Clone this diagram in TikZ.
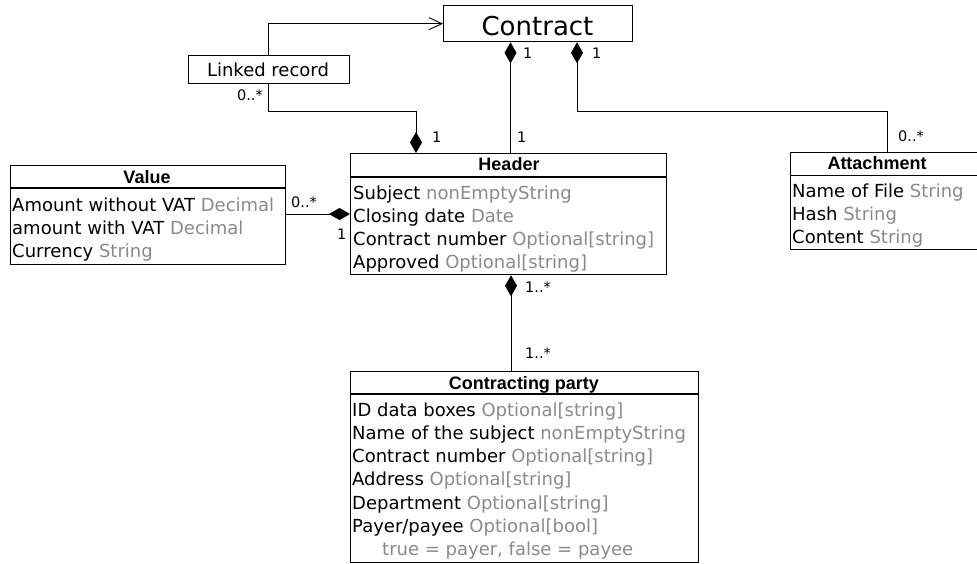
\documentclass[tikz,border=0pt]{standalone}
\usepackage{fontspec}
\setmainfont{DejaVu Sans}
\newfontfamily\titlefamily{Liberation Sans}
\usetikzlibrary{arrows.meta}

\definecolor{typegray}{RGB}{138,138,138}
\newcommand{\ty}[1]{\textcolor{typegray}{#1}}

\tikzset{
  classbox/.style={draw, line width=1.3pt, rectangle, inner sep=0pt, anchor=north west},
  sepline/.style={line width=1.3pt},
  classtitle/.style={anchor=base, inner sep=0pt, font=\titlefamily\bfseries\fontsize{18}{18}\selectfont},
  attr/.style={anchor=base west, inner sep=0pt, font=\fontsize{18}{18}\selectfont},
  mult/.style={anchor=base west, inner sep=0pt, font=\fontsize{14.5}{14.5}\selectfont},
  assoc/.style={line width=0.9pt},
  compend/.style={assoc, -{Diamond[length=21pt,width=12pt]}},
  compstart/.style={assoc, {Diamond[length=21pt,width=12pt]}-},
  navend/.style={assoc, -{Straight Barb[length=13pt,width=12pt,line width=0.9pt]}}
}

\begin{document}
\begin{tikzpicture}[x=1pt,y=-1pt]
\useasboundingbox (0,0) rectangle (977,563);

% Contract
\node[classbox, minimum width=189pt, minimum height=36pt] (ct) at (443,5) {};
\node[anchor=base, inner sep=0pt, font=\fontsize{26}{26}\selectfont] (ctT) at (537.5,35) {Contract};

% Linked record
\node[classbox, line width=1.1pt, minimum width=161.5pt, minimum height=27.6pt] (lr) at (187.5,55) {};
\node[anchor=base, inner sep=0pt, font=\fontsize{18}{18}\selectfont] (lrT) at (268,76) {Linked record};

% Value
\node[classbox, minimum width=274.5pt, minimum height=99pt] (val) at (10,165) {};
\node[classtitle] (valT) at (147,183) {Value};
\draw[sepline] (val.west |- 0,188) -- (val.east |- 0,188);
\node[attr] (val1) at (12,211) {Amount without VAT \ty{Decimal}};
\node[attr] (val2) at (12,234) {amount with VAT \ty{Decimal}};
\node[attr] (val3) at (12,257) {Currency \ty{String}};

% Header
\node[classbox, minimum width=316pt, minimum height=121pt] (hdr) at (350,153) {};
\node[classtitle] (hdrT) at (509,170.7) {Header};
\draw[sepline] (hdr.west |- 0,177) -- (hdr.east |- 0,177);
\node[attr] (hdr1) at (353,199.5) {Subject \ty{nonEmptyString}};
\node[attr] (hdr2) at (353,222.5) {Closing date \ty{Date}};
\node[attr] (hdr3) at (353,245.5) {Contract number \ty{Optional[string]}};
\node[attr] (hdr4) at (353,268.5) {Approved \ty{Optional[string]}};

% Attachment
\node[classbox, minimum width=186.5pt, minimum height=97pt] (att) at (790,152) {};
\node[classtitle] (attT) at (877,169) {Attachment};
\draw[sepline] (att.west |- 0,175.5) -- (att.east |- 0,175.5);
\node[attr] (att1) at (792,197.5) {Name of File \ty{String}};
\node[attr] (att2) at (792,220.5) {Hash \ty{String}};
\node[attr] (att3) at (792,243.5) {Content \ty{String}};

% Contracting party
\node[classbox, minimum width=348.5pt, minimum height=190.5pt] (pty) at (349.5,371) {};
\node[classtitle] (ptyT) at (524,389) {Contracting party};
\draw[sepline] (pty.west |- 0,394) -- (pty.east |- 0,394);
\node[attr] (pty1) at (352,416) {ID data boxes \ty{Optional[string]}};
\node[attr] (pty2) at (352,439.3) {Name of the subject \ty{nonEmptyString}};
\node[attr] (pty3) at (352,462.6) {Contract number \ty{Optional[string]}};
\node[attr] (pty4) at (352,485.9) {Address \ty{Optional[string]}};
\node[attr] (pty5) at (352,509.2) {Department \ty{Optional[string]}};
\node[attr] (pty6) at (352,532.5) {Payer/payee \ty{Optional[bool]}};
\node[attr] (pty7) at (382,555.5) {\ty{true = payer, false = payee}};

% Connectors
\draw[navend] (lr.north) |- (ct.west);
\draw[compend] (lr.south) -- ++(0,27.4) -| (hdr.north -| 416,0);
\draw[compstart] (ct.south -| 510.5,0) -- (hdr.north -| 510.5,0);
\draw[compstart] (ct.south -| 577,0) -- ++(0,69) -| (att.north -| 887,0);
\draw[compstart] (hdr.south -| 511,0) -- (pty.north -| 511,0);
\draw[compend] (val.east |- 0,214) -- (hdr.west |- 0,214);

% Multiplicities
\node[mult, anchor=base east] (m1) at (263,100) {0..*};
\node[mult] (m2) at (432,142.7) {1};
\node[mult] (m3) at (523,58) {1};
\node[mult] (m4) at (592,58) {1};
\node[mult] (m5) at (517,142.7) {1};
\node[mult] (m6) at (898,141) {0..*};
\node[mult] (m7) at (525,292) {1..*};
\node[mult] (m8) at (525,358) {1..*};
\node[mult] (m9) at (291,207) {0..*};
\node[mult] (m10) at (337,239) {1};
\end{tikzpicture}
\end{document}
